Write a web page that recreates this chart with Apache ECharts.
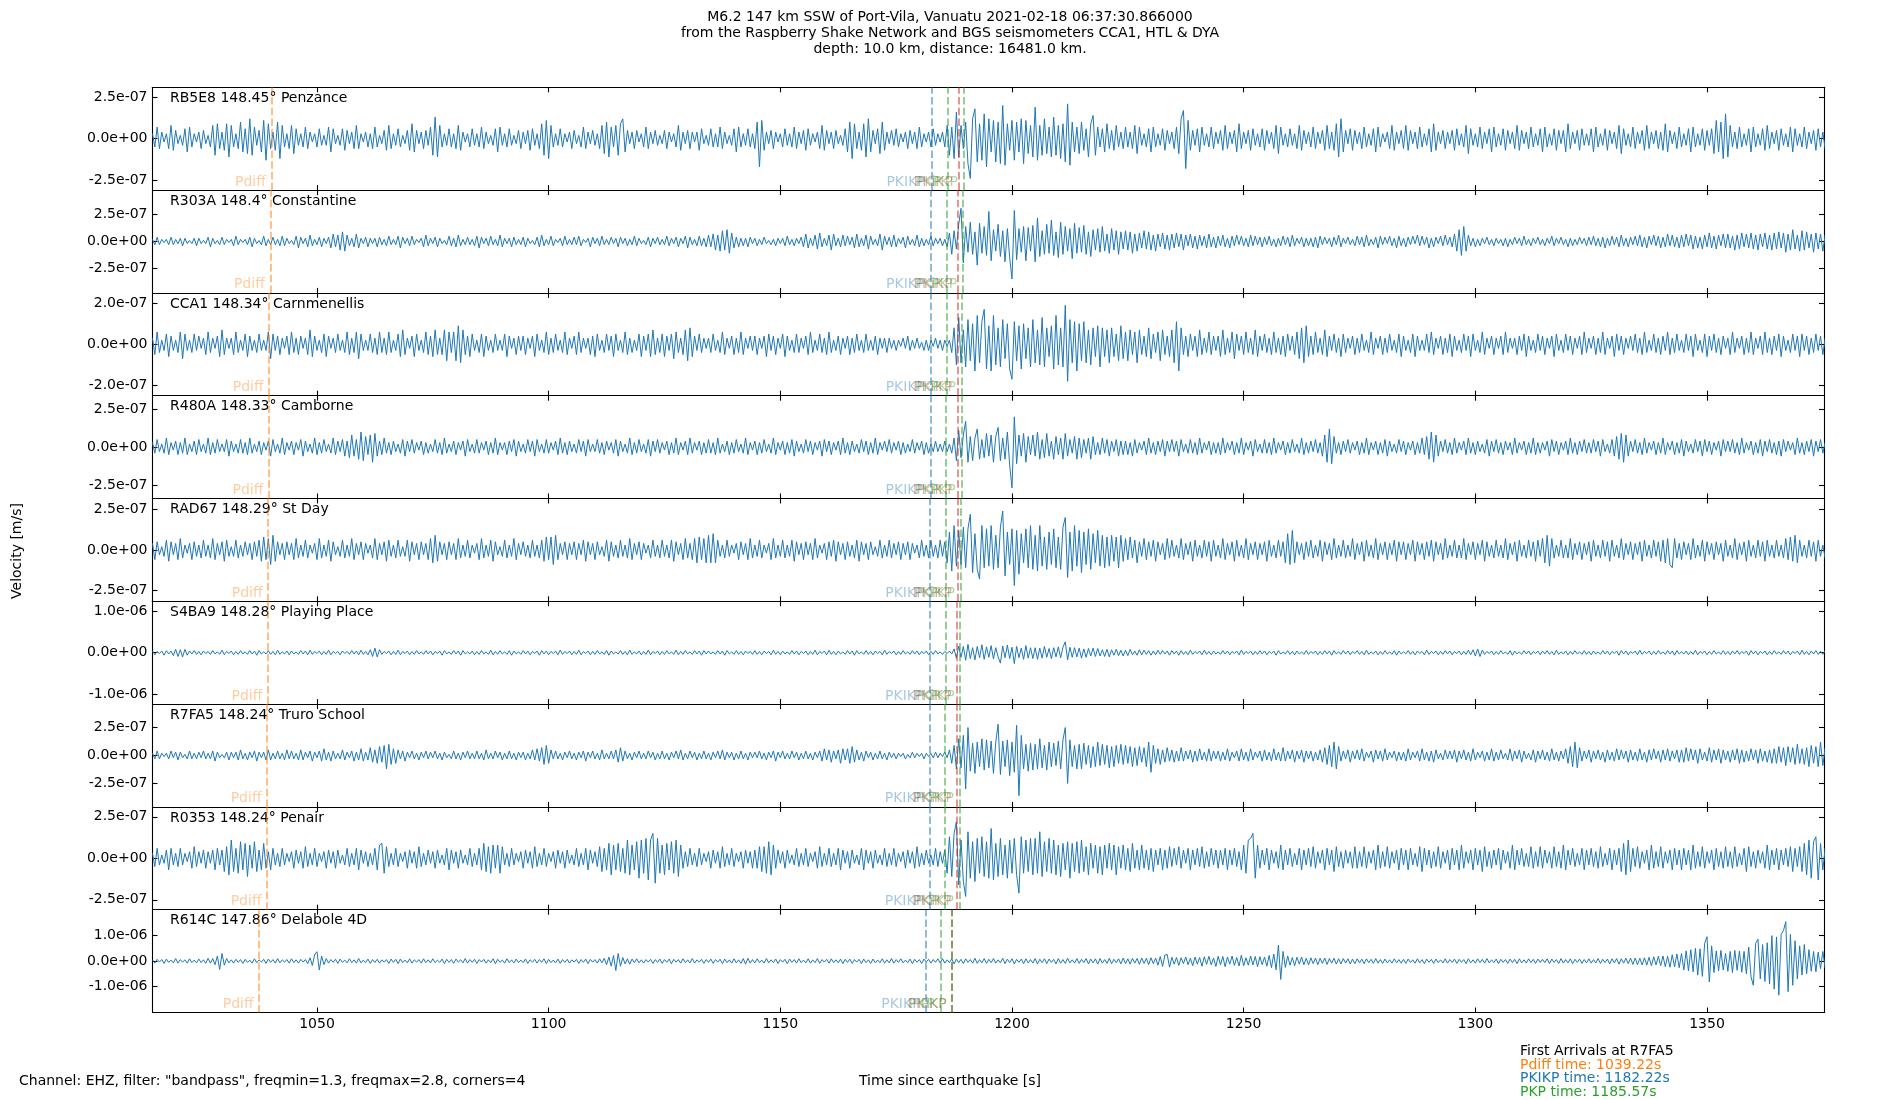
<!DOCTYPE html>
<html>
<head>
<meta charset="utf-8">
<title>M6.2 147 km SSW of Port-Vila, Vanuatu</title>
<script src="https://cdn.jsdelivr.net/npm/echarts@6/dist/echarts.min.js"></script>
<style>
    html, body { margin: 0; padding: 0; background: #fff; }
    #chartArea { width: 1900px; height: 1100px; }
</style>
</head>
<body>
<div id="chartArea"></div>
<script>
// sample grid of the traces
var T0 = 1014.5;   // first sample [s]
var DT = 0.5;      // sample step [s]
var UNIT = 1e-8;   // trace values below are in 1e-8 m/s

var stationNames = [
    'RB5E8 148.45\u00b0 Penzance',
    'R303A 148.4\u00b0 Constantine',
    'CCA1 148.34\u00b0 Carnmenellis',
    'R480A 148.33\u00b0 Camborne',
    'RAD67 148.29\u00b0 St Day',
    'S4BA9 148.28\u00b0 Playing Place',
    'R7FA5 148.24\u00b0 Truro School',
    'R0353 148.24\u00b0 Penair',
    'R614C 147.86\u00b0 Delabole 4D'
];

// y half-range of each panel, same units as the traces
var yLimits = [31, 48, 25, 34, 31.7, 123, 46, 31, 202];
var yTickValues = [
    [-25, 0, 25], [-25, 0, 25], [-20, 0, 20], [-25, 0, 25], [-25, 0, 25],
    [-100, 0, 100], [-25, 0, 25], [-25, 0, 25], [-100, 0, 100]
];
var xTickValues = [1050, 1100, 1150, 1200, 1250, 1300, 1350];

// arrival times per station [s]
var pdiffTimes = [1040.14, 1039.92, 1039.66, 1039.62, 1039.44, 1039.40, 1039.22, 1039.22, 1037.50];
var pkikpTimes = [1182.58, 1182.50, 1182.42, 1182.40, 1182.32, 1182.30, 1182.22, 1182.22, 1181.46];
var pkpTimes = [1186.05, 1185.95, 1185.84, 1185.81, 1185.70, 1185.68, 1185.57, 1185.57, 1184.54];
var pkikpInnerTimes = [1188.45, 1188.38, 1188.30, 1188.27, 1188.20, 1188.18, 1188.10, 1188.10, 1187.10];
var pkpAbTimes = [1189.50, 1189.35, 1189.09, 1189.05, 1188.88, 1188.83, 1188.66, 1188.66, 1187.10];

// velocity traces, 20 samples (10 s) per row
var tracePenzance = [
    3,-5,7,-6,4,-2,3,-6,8,-7,5,-3,2,-4,6,-8,7,-5,3,-2,
    4,-6,5,-3,2,-5,8,-10,9,-6,4,-7,9,-11,8,-5,3,-6,10,-8,
    6,-9,12,-10,7,-4,5,-8,11,-13,9,-6,4,-7,10,-12,8,-5,3,-6,
    8,-9,6,-4,3,-5,7,-6,4,-2,3,-5,6,-4,2,-4,7,-8,6,-3,
    2,-4,6,-7,5,-3,4,-6,8,-6,3,-2,4,-5,3,-6,7,-5,2,-3,
    5,-7,8,-6,3,-4,6,-5,2,-3,5,-7,9,-8,5,-3,4,-6,5,-4,
    7,-10,13,-11,8,-5,3,-4,6,-5,3,-6,8,-7,4,-2,3,-5,6,-4,
    3,-5,7,-6,4,-3,2,-4,6,-8,7,-4,3,-5,6,-4,2,-3,5,-6,
    4,-3,5,-7,6,-4,3,-6,9,-10,11,-12,8,-5,3,-4,6,-5,3,-2,
    4,-6,5,-3,2,-5,7,-6,4,-3,5,-4,3,-6,8,-9,10,-11,7,-5,
    8,-10,9,12,-8,5,-3,4,-6,5,-2,3,-5,7,-6,4,-3,5,-4,2,
    -3,5,-6,4,-2,3,-5,8,-7,4,-3,5,-6,4,-2,4,-7,6,-3,2,
    -4,6,-5,3,-5,7,-6,4,-3,2,-4,6,-8,7,-5,3,-4,6,-5,3,
    -6,10,-17,11,-7,4,-3,5,-6,4,-2,3,-5,6,-4,3,-5,7,-6,4,
    -3,5,-7,6,-4,3,-2,4,-6,8,-7,5,-3,4,-6,5,-3,2,-4,6,
    -8,10,-12,9,-6,4,-7,9,-11,12,-8,5,-3,6,-9,10,-7,4,-3,5,
    -4,6,-5,3,-2,4,-6,5,-3,4,-6,7,-5,3,-2,4,-5,6,-4,3,
    -2,4,-5,8,-10,7,-12,16,-11,8,-6,10,-15,-24,12,18,-14,9,-13,15,
    -17,12,-8,11,-14,10,-15,20,-16,9,-7,11,-13,10,-8,12,-15,11,-9,8,
    -11,19,-13,8,-10,12,-9,7,-11,13,-10,8,-12,9,-14,21,-16,10,-8,7,
    -9,10,-7,6,-11,9,14,-10,7,-5,6,-8,9,-6,5,-7,8,-5,4,-6,
    7,-5,4,-6,8,-9,7,-4,3,-5,6,-8,7,-5,3,-4,6,-7,5,-3,
    4,-6,7,-9,12,17,-18,11,-7,5,-4,6,-8,7,-4,3,-5,7,-6,4,
    -3,5,-7,8,-6,4,-3,5,-8,9,-6,4,-3,5,-7,6,-4,3,-5,6,
    -7,5,-3,4,-6,8,-9,7,-4,3,-5,6,-4,3,-6,8,-7,5,-3,4,
    -5,7,-6,4,-3,5,-7,8,-6,4,-7,9,-11,12,-8,5,-3,6,-7,5,
    -3,4,-6,7,-5,3,-4,6,-8,7,-5,3,-2,4,-6,8,-7,4,-3,5,
    -6,8,-7,5,-3,4,-6,7,-5,3,-4,6,-8,9,-7,4,-3,5,-6,4,
    -3,5,-7,6,-4,3,-5,8,-9,6,-4,3,-5,7,-6,4,-3,6,-8,7,
    -5,3,-4,6,-7,5,-3,4,-6,8,-7,5,-3,4,-6,7,-5,3,-4,6,
    -8,7,-5,3,-4,6,-7,5,-3,5,-8,9,-6,4,-3,5,-7,6,-4,3,
    -4,6,-8,7,-5,3,-4,6,-7,5,-3,4,-6,8,-9,6,-4,3,-5,7,
    -6,4,-3,5,-7,8,-6,4,-3,5,-6,4,-7,9,-8,5,-3,4,-6,7,
    -5,3,-4,6,-8,7,-5,3,-4,6,-7,5,-4,6,-9,11,-8,10,-12,15,
    -11,8,-5,4,-6,7,-5,3,-4,6,-8,7,-5,3,-4,6,-7,8,-6,4,
    -3,5,-7,6,-4,3,-5,7,-8,6,-4,3,-5,7,-6,4,-3,5,-7,6,
    -5,4,-6,5
];
var traceConstantine = [
    2,-3,4,-3,2,-1,2,-3,4,-3,2,-2,3,-4,3,-2,1,-2,3,-4,
    3,-2,1,-2,4,-5,3,-2,1,-3,4,-3,2,-1,2,-4,5,-3,2,-1,
    2,-3,4,-5,3,-2,1,-3,5,-4,2,-3,4,-3,2,-4,5,-4,3,-2,
    1,-3,5,-6,4,-2,3,-5,6,-4,2,-3,4,-5,3,-2,4,-6,7,-5,
    6,-8,9,-9,6,-4,3,-5,7,-6,3,-2,4,-5,3,-2,3,-5,4,-3,
    2,-4,5,-3,2,-3,5,-6,4,-2,3,-4,5,-3,2,-1,3,-5,6,-4,
    3,-2,4,-5,3,-2,1,-3,5,-4,3,-5,6,-4,2,-3,4,-3,2,-4,
    5,-6,4,-2,3,-4,5,-3,2,-4,6,-5,3,-2,3,-5,4,-3,2,-3,
    4,-5,3,-2,1,-3,4,-5,6,-4,2,-3,5,-4,2,-1,3,-4,5,-3,
    2,-3,4,-3,5,-4,2,-1,3,-5,4,-2,3,-4,5,-3,2,-3,4,-2,
    3,-5,4,-2,3,-4,2,-3,5,-4,3,-2,1,-3,4,-5,3,-2,4,-3,
    2,-3,5,-4,3,-2,4,-5,3,-2,5,-6,4,-3,2,-4,5,-4,3,-5,
    6,-5,7,-8,6,-9,10,-8,11,-11,8,-6,4,-5,3,-4,3,-5,4,-2,
    3,-4,2,-3,4,-2,1,-3,2,-4,3,-2,3,-4,5,-3,2,-4,3,-2,
    4,-5,7,-6,3,-4,6,-7,8,-5,3,-4,6,-8,7,-4,3,-5,6,-4,
    5,-3,4,-6,7,-5,3,-4,6,-7,5,-3,2,-4,7,-8,5,-3,4,-5,
    6,-5,3,-2,4,-6,5,-3,2,-4,6,-5,3,-4,2,-3,5,-4,3,-2,
    3,-4,2,-5,8,-12,10,-7,16,31,-20,14,-10,18,-12,9,-22,17,-11,14,
    -13,28,-18,11,-9,16,-14,10,-19,12,-15,-35,29,-17,12,-10,14,-18,13,-9,
    15,-19,22,-14,10,-12,16,-11,20,-13,9,-15,18,-12,14,-9,12,-16,17,-11,
    13,-10,15,-12,9,-14,11,-8,12,-10,14,-9,7,-11,12,-8,10,-12,9,-7,
    10,-8,9,-11,7,-9,8,-6,10,-7,9,-8,6,-9,7,-5,8,-7,6,-8,
    7,-6,8,-5,7,-8,6,-4,7,-6,5,-7,6,-4,5,-6,7,-5,4,-6,
    5,-4,6,-5,3,-6,5,-4,6,-3,5,-4,3,-5,6,-4,5,-3,4,-5,
    4,-3,5,-4,2,-5,3,-4,5,-3,4,-5,6,-4,3,-2,4,-5,3,-4,
    3,-5,4,-6,5,-3,4,-2,3,-5,4,-3,6,-5,3,-2,4,-3,2,-4,
    5,-3,4,-5,6,-4,2,-3,4,-6,5,-3,4,-2,5,-4,3,-6,5,-4,
    3,-5,4,-3,5,-2,6,-4,5,-3,4,-6,3,-5,4,-2,5,-4,6,-3,
    4,-5,7,-9,11,-13,14,-9,6,-4,3,-5,2,-4,3,-2,4,-3,2,-4,
    3,-2,2,-4,3,-5,2,-3,4,-2,3,-4,5,-3,2,-4,3,-2,4,-3,
    2,-4,3,-2,5,-4,3,-2,4,-3,2,-5,3,-4,2,-3,4,-2,3,-4,
    4,-3,5,-4,3,-5,4,-6,3,-4,5,-3,4,-5,6,-4,3,-5,4,-3,
    5,-4,6,-5,4,-6,5,-3,6,-4,5,-6,4,-5,7,-4,6,-5,4,-6,
    6,-5,7,-4,6,-7,5,-6,4,-7,6,-5,8,-6,5,-7,6,-4,7,-6,
    7,-6,5,-8,6,-7,8,-5,7,-6,8,-7,6,-8,7,-5,8,-7,6,-8,
    8,-7,9,-6,8,-10,7,-8,11,-7,6,-9,10,-8,9,-6,7,-10,8,-7,
    7,-9,6,-8
];
var traceCarnmenellis = [
    3,-5,6,-4,2,-3,5,-6,4,-3,2,-4,6,-7,5,-3,2,-4,5,-3,
    4,-2,3,-5,6,-4,3,-2,4,-6,7,-5,3,-2,3,-5,6,-4,2,-3,
    5,-6,4,-3,2,-4,5,-3,2,-3,6,-7,5,-3,4,-5,3,-2,4,-5,
    6,-4,3,-5,4,-2,3,-5,7,-6,4,-3,2,-4,5,-6,4,-2,3,-4,
    5,-3,2,-4,6,-5,3,-4,6,-7,5,-3,2,-3,5,-4,3,-5,6,-4,
    3,-5,6,-4,2,-3,5,-6,7,-5,3,-2,4,-6,5,-3,2,-4,6,-5,
    4,-6,7,-5,3,-5,7,-8,6,-4,6,-8,9,-9,7,-5,4,-6,5,-3,
    2,-4,5,-6,4,-3,2,-4,5,-3,2,-3,5,-6,4,-2,3,-5,4,-3,
    4,-5,3,-2,4,-6,5,-3,2,-4,6,-5,3,-4,5,-3,2,-4,6,-5,
    3,-2,4,-5,6,-4,3,-2,3,-5,4,-6,5,-3,2,-4,5,-3,4,-6,
    5,-3,2,-4,6,-5,3,-4,2,-3,5,-6,4,-3,5,-6,7,-5,3,-4,
    5,-6,4,-3,5,-7,6,-4,3,-5,7,-8,8,-6,4,-3,5,-4,3,-2,
    3,-4,5,-3,2,-4,6,-5,3,-2,4,-5,3,-4,6,-5,3,-2,4,-3,
    4,-5,3,-2,4,-6,5,-3,4,-5,3,-2,5,-6,4,-3,2,-4,5,-4,
    3,-2,4,-5,6,-4,2,-3,5,-4,3,-5,6,-4,2,-3,4,-5,3,-2,
    4,-5,3,-4,5,-3,2,-4,5,-3,2,-3,4,-5,3,-2,3,-4,3,-2,
    2,-3,2,-1,3,-2,4,-3,2,-2,3,-2,1,-3,2,-3,2,-1,3,-2,
    2,-3,2,-1,2,-4,8,-10,13,-9,7,-11,12,-8,10,-13,14,-9,11,17,
    -12,9,-13,14,-10,8,-11,12,-7,10,-12,-17,11,-8,9,-12,10,-7,8,-11,
    12,-9,7,-10,13,-11,8,-6,9,-12,14,-10,8,-11,19,-18,12,-9,11,-13,
    10,-8,11,-9,7,-10,8,-6,9,-11,8,-6,7,-9,8,-6,5,-8,9,-7,
    6,-8,7,-5,6,-9,7,-5,4,-6,8,-7,5,-4,6,-8,7,-5,4,-6,
    7,-9,11,-13,8,-5,4,-6,5,-3,4,-6,7,-5,3,-4,6,-5,4,-3,
    4,-6,7,-5,3,-4,6,-7,5,-3,4,-5,6,-4,3,-5,7,-6,4,-3,
    5,-4,3,-5,6,-4,3,-5,4,-6,5,-3,4,-5,6,-7,8,-9,9,-6,
    4,-5,6,-4,3,-5,7,-6,4,-3,5,-4,3,-6,5,-4,3,-2,4,-5,
    3,-4,5,-3,2,-4,6,-5,3,-2,4,-5,3,-4,5,-3,2,-4,5,-6,
    4,-3,2,-4,5,-6,4,-3,2,-3,5,-4,6,-5,3,-2,4,-5,3,-4,
    5,-6,4,-3,2,-4,5,-3,4,-6,5,-3,2,-4,6,-5,3,-2,4,-5,
    3,-2,4,-5,6,-4,3,-2,3,-5,4,-3,5,-6,4,-3,2,-4,5,-3,
    4,-5,3,-2,4,-6,5,-3,2,-4,5,-3,4,-5,3,-2,4,-5,6,-4,
    3,-2,4,-5,3,-4,6,-5,3,-2,4,-6,5,-3,4,-5,3,-2,4,-3,
    5,-4,3,-5,6,-4,2,-3,5,-4,3,-5,4,-3,6,-5,3,-4,5,-3,
    2,-4,5,-3,4,-6,5,-3,2,-4,5,-6,4,-3,5,-4,3,-5,4,-2,
    3,-5,6,-4,3,-2,4,-5,3,-4,6,-5,3,-2,4,-5,6,-4,3,-5,
    4,-3,5,-6,4,-3,2,-4,5,-3,4,-6,5,-3,4,-5,3,-4,5,-3,
    4,-5,3,-4
];
var traceCamborne = [
    3,-4,5,-3,2,-4,6,-5,3,-2,4,-5,3,-4,6,-5,2,-3,4,-5,
    5,-3,2,-4,6,-5,3,-4,5,-3,2,-3,5,-6,4,-3,2,-4,5,-4,
    3,-5,6,-4,2,-3,4,-5,3,-2,4,-6,5,-3,2,-4,6,-5,3,-2,
    4,-5,3,-2,5,-6,4,-3,2,-4,6,-5,3,-4,5,-3,2,-4,6,-5,
    4,-3,5,-6,4,-7,8,-6,5,-8,10,-9,7,-5,8,-10,9,-6,4,-5,
    6,-4,3,-5,4,-3,2,-4,5,-6,4,-3,5,-4,3,-2,4,-5,3,-4,
    2,-3,5,-4,3,-5,6,-4,2,-3,4,-5,3,-2,4,-6,5,-3,2,-4,
    5,-4,3,-2,4,-5,3,-4,6,-5,3,-2,3,-5,4,-3,5,-6,4,-3,
    2,-4,5,-3,4,-6,5,-3,2,-4,5,-4,3,-2,4,-5,6,-4,3,-5,
    4,-3,2,-4,5,-3,4,-6,5,-3,2,-3,5,-4,3,-5,4,-2,3,-4,
    5,-6,4,-3,2,-4,6,-5,3,-4,5,-3,2,-4,5,-6,4,-3,5,-4,
    3,-2,4,-5,3,-4,6,-5,3,-2,4,-5,6,-4,3,-2,4,-5,3,-4,
    5,-4,3,-5,6,-4,2,-3,4,-5,3,-4,5,-3,2,-4,6,-5,3,-2,
    4,-5,3,-4,5,-3,2,-4,6,-5,3,-2,4,-5,3,-4,5,-6,4,-3,
    2,-4,5,-3,4,-5,3,-2,4,-6,5,-3,4,-5,3,-2,4,-5,6,-4,
    3,-5,4,-3,2,-4,5,-3,4,-5,3,-4,6,-5,3,-2,4,-3,5,-4,
    3,-2,4,-5,3,-4,2,-3,5,-4,3,-2,4,-5,3,-4,2,-3,4,-3,
    2,-3,4,-3,2,-4,6,-9,11,-7,8,17,-10,7,-9,6,12,-8,5,-7,
    9,-6,8,-10,7,13,-9,6,-8,10,-12,-27,20,-11,8,-6,9,-10,7,-5,
    8,-6,10,-8,5,-7,9,-6,4,-8,7,-5,6,-8,9,-6,5,-4,7,-8,
    6,-7,5,-4,6,-8,7,-5,3,-5,6,-4,5,-6,4,-3,5,-6,4,-5,
    4,-5,3,-6,5,-4,3,-2,4,-5,6,-4,3,-5,4,-3,5,-6,4,-3,
    5,-3,4,-6,5,-3,2,-4,5,-4,3,-5,6,-4,3,-2,4,-5,3,-4,
    3,-5,6,-4,3,-2,4,-5,3,-4,6,-5,3,-2,4,-6,5,-3,2,-4,
    5,-4,3,-5,6,-4,3,-2,4,-5,3,-4,5,-3,2,-4,6,-5,3,-4,
    4,-3,5,-4,3,-6,8,-10,12,-11,7,-4,3,-5,4,-3,5,-4,3,-2,
    4,-5,3,-4,6,-5,3,-2,4,-5,3,-4,5,-6,4,-3,2,-4,5,-3,
    4,-5,3,-2,4,-5,3,-4,6,-5,7,-8,10,-10,8,-6,4,-3,5,-4,
    3,-5,6,-4,3,-2,4,-5,6,-4,3,-5,4,-3,2,-4,5,-6,4,-3,
    5,-4,3,-5,4,-2,3,-5,6,-4,3,-2,4,-5,3,-4,6,-5,3,-4,
    3,-2,4,-6,5,-3,4,-5,3,-2,4,-5,6,-4,3,-5,4,-3,5,-4,
    3,-4,5,-3,4,-6,5,-3,2,-4,5,-6,7,-8,9,-10,8,-6,4,-3,
    5,-4,3,-5,6,-4,3,-2,4,-5,3,-4,6,-5,3,-2,4,-5,3,-4,
    5,-6,4,-3,2,-4,5,-3,4,-6,5,-3,4,-5,3,-2,4,-6,5,-3,
    4,-3,5,-4,3,-5,6,-4,3,-2,4,-5,3,-4,5,-6,4,-3,5,-4,
    3,-5,4,-6,5,-3,4,-2,3,-5,6,-4,3,-5,4,-3,5,-6,4,-3,
    5,-4,3,-5
];
var traceStDay = [
    4,-6,5,-3,2,-4,6,-7,5,-3,4,-6,7,-5,3,-2,4,-6,5,-4,
    3,-5,6,-4,3,-5,7,-6,4,-3,5,-7,6,-4,2,-4,6,-5,3,-4,
    5,-3,4,-6,5,-4,6,-7,8,-6,7,-9,9,-7,5,-3,4,-6,5,-3,
    4,-6,7,-5,3,-4,6,-5,3,-2,4,-6,7,-5,3,-4,6,-7,5,-3,
    2,-4,6,-5,3,-4,7,-6,4,-3,5,-6,4,-2,3,-5,7,-6,4,-3,
    5,-7,6,-4,3,-5,6,-4,2,-4,6,-7,5,-3,4,-6,5,-3,4,-6,
    7,-8,9,-7,5,-3,4,-6,5,-3,4,-6,7,-5,3,-4,6,-5,3,-2,
    4,-6,7,-5,3,-4,6,-7,5,-3,2,-4,6,-5,3,-4,7,-6,4,-3,
    5,-4,3,-5,6,-4,3,-5,6,-7,8,-6,8,-9,9,-6,4,-3,5,-6,
    4,-3,5,-6,4,-3,6,-7,5,-3,4,-6,5,-3,2,-4,6,-7,5,-4,
    3,-5,6,-4,3,-5,7,-6,4,-3,5,-6,4,-2,3,-5,6,-4,3,-5,
    6,-4,3,-5,6,-7,5,-3,4,-6,7,-5,4,-6,7,-8,8,-6,7,-8,
    9,-8,10,-8,6,-4,3,-5,6,-4,3,-2,4,-6,5,-3,4,-6,7,-5,
    3,-4,6,-5,3,-2,4,-6,7,-5,3,-4,6,-5,3,-4,6,-7,5,-3,
    4,-6,5,-3,4,-6,7,-5,3,-2,4,-6,5,-4,6,-7,5,-3,4,-6,
    5,-4,3,-5,6,-7,5,-3,4,-6,5,-3,2,-4,6,-5,3,-4,6,-5,
    4,-3,5,-6,4,-3,5,-6,4,-2,3,-5,6,-4,3,-5,6,-4,3,-5,
    6,-4,5,-8,11,-13,15,-10,12,-9,14,-11,13,22,-14,10,-12,-18,15,-11,
    13,-10,15,-12,9,-11,14,24,-16,11,-9,13,-22,12,-15,10,-8,13,-11,15,
    -12,9,-13,15,-10,8,-12,11,-9,13,-11,8,-12,14,20,-17,11,-13,15,-10,
    12,-14,11,-9,13,-12,10,-8,12,-10,9,-11,8,-10,9,-7,8,-11,9,-7,
    7,-6,8,-5,6,-8,5,-4,7,-6,5,-4,6,-7,5,-3,4,-6,7,-5,
    6,-4,3,-5,7,-6,4,-3,5,-7,6,-4,3,-5,6,-4,5,-7,6,-4,
    3,-5,7,-6,4,-3,5,-7,6,-4,3,-5,7,-6,4,-3,5,-6,4,-3,
    5,-7,6,-4,3,-5,6,-4,5,-8,10,-9,12,-8,5,-3,4,-6,5,-4,
    6,-5,3,-4,6,-7,5,-3,4,-6,7,-5,3,-4,6,-5,3,-4,7,-6,
    4,-3,5,-7,6,-4,3,-5,7,-6,4,-3,5,-6,4,-3,6,-7,5,-3,
    5,-6,4,-3,6,-7,5,-3,4,-6,5,-4,6,-7,5,-3,4,-6,7,-5,
    3,-4,6,-5,3,-5,7,-6,4,-3,5,-6,4,-3,6,-7,5,-4,3,-5,
    6,-4,3,-5,7,-6,4,-3,5,-7,6,-4,3,-5,6,-4,5,-7,6,-4,
    7,-8,9,-10,7,-5,3,-4,6,-5,3,-5,7,-6,4,-3,5,-6,4,-3,
    5,-7,6,-4,3,-5,6,-4,5,-7,6,-4,3,-5,7,-6,4,-3,5,-6,
    4,-3,5,-7,6,-4,3,-5,6,-4,5,-7,6,-8,7,-9,-11,7,-5,4,
    -6,5,-3,4,-6,7,-5,3,-4,6,-7,5,-3,4,-6,5,-3,4,-7,6,
    -4,3,-5,7,-6,4,-3,5,-7,6,-4,3,-5,6,-4,5,-7,6,-4,3,
    -5,6,-4,3,-5,7,-6,8,-7,9,-8,6,-4,3,-5,6,-4,5,-7,6,
    -4,3,-5,6
];
var tracePlayingPlace = [
    4,-5,3,-2,4,-6,5,-3,4,-7,8,-9,7,-10,8,-6,4,-3,5,-4,
    3,-5,4,-2,3,-4,5,-3,2,-4,6,-5,3,-2,4,-5,3,-4,5,-3,
    2,-4,5,-3,4,-6,5,-3,2,-3,5,-4,3,-5,6,-4,2,-3,4,-5,
    4,-3,2,-4,5,-3,4,-5,6,-4,3,-2,4,-5,3,-4,6,-5,3,-2,
    3,-5,4,-2,3,-4,5,-3,4,-5,6,-4,3,-5,7,-9,11,-10,7,-4,
    3,-2,4,-5,3,-4,6,-5,3,-2,4,-5,3,-4,5,-3,2,-4,5,-3,
    4,-5,3,-2,4,-6,5,-3,2,-4,5,-3,4,-6,5,-3,2,-3,4,-5,
    3,-4,5,-3,2,-4,6,-5,3,-4,5,-3,2,-4,5,-6,4,-3,2,-4,
    5,-3,4,-5,3,-2,4,-6,5,-3,4,-5,3,-2,4,-5,6,-4,3,-2,
    4,-5,3,-4,6,-5,3,-2,4,-5,3,-4,5,-3,2,-4,5,-6,4,-3,
    2,-3,5,-4,3,-5,6,-4,2,-3,4,-5,3,-4,6,-5,3,-2,4,-5,
    3,-4,5,-3,2,-4,6,-5,3,-4,5,-3,2,-4,5,-3,4,-6,5,-3,
    4,-3,2,-4,5,-3,4,-6,5,-3,2,-4,5,-4,3,-5,4,-2,3,-4,
    5,-4,3,-5,4,-2,3,-5,6,-4,3,-5,4,-3,2,-4,5,-3,4,-5,
    3,-2,4,-5,3,-4,6,-5,3,-2,4,-5,6,-4,3,-5,4,-3,2,-4,
    5,-3,4,-6,5,-3,2,-4,5,-4,3,-5,4,-2,3,-5,6,-4,3,-2,
    4,-5,3,-4,5,-3,2,-4,5,-3,4,-5,3,-2,4,-5,3,-4,5,-3,
    2,-4,3,-2,4,-3,9,-13,16,-11,15,-18,20,-14,12,-17,15,-12,19,-16,
    14,-11,17,-15,12,-10,-25,16,-12,18,-14,13,-26,15,-12,11,-16,17,-13,12,
    -14,12,-16,11,-13,15,-11,10,-14,12,-10,14,-12,13,26,-17,13,-11,12,-10,
    11,-13,9,-11,10,-8,11,-9,10,-8,7,-9,8,-10,7,-6,8,-7,6,-8,
    6,-7,8,-5,4,-6,7,-5,6,-4,5,-6,4,-5,6,-4,5,-3,4,-6,
    5,-3,4,-6,5,-4,3,-5,6,-4,3,-2,4,-5,6,-4,3,-5,4,-3,
    2,-4,5,-3,4,-5,3,-2,4,-5,6,-4,3,-2,4,-5,3,-4,5,-3,
    4,-5,3,-2,4,-6,5,-3,2,-3,5,-4,3,-5,4,-3,2,-4,5,-4,
    3,-2,4,-5,3,-4,5,-3,4,-6,5,-3,2,-4,5,-3,4,-5,3,-2,
    5,-4,3,-5,6,-4,2,-3,4,-5,3,-4,5,-3,2,-4,5,-6,4,-3,
    2,-3,5,-4,3,-5,4,-2,3,-5,6,-4,3,-2,4,-5,3,-4,5,-3,
    4,-5,3,-2,4,-5,3,-4,6,-5,7,-8,9,-9,6,-4,3,-2,4,-5,
    3,-4,5,-3,2,-4,5,-6,4,-3,2,-4,5,-3,4,-5,3,-2,4,-5,
    4,-3,5,-4,3,-5,6,-4,2,-3,4,-5,3,-4,5,-3,2,-4,5,-4,
    3,-5,4,-3,2,-4,5,-3,4,-5,3,-2,4,-6,5,-3,4,-5,3,-2,
    4,-5,6,-4,3,-2,4,-5,3,-4,5,-3,2,-4,5,-3,4,-6,5,-3,
    2,-3,4,-5,3,-4,6,-5,3,-2,4,-5,3,-4,5,-3,2,-4,5,-4,
    3,-5,4,-3,5,-4,3,-2,4,-6,5,-3,4,-5,3,-2,4,-5,3,-4,
    5,-3,2,-4,5,-3,4,-5,3,-2,4,-5,6,-4,3,-5,4,-3,5,-4,
    3,-4,5,-3
];
var traceTruroSchool = [
    2,-3,4,-3,2,-1,2,-3,4,-2,3,-4,3,-2,1,-3,4,-3,2,-3,
    3,-2,4,-3,2,-3,4,-5,3,-2,1,-2,3,-4,3,-2,3,-4,5,-3,
    2,-4,3,-2,4,-5,3,-2,3,-4,5,-4,2,-3,4,-3,2,-4,5,-3,
    4,-3,2,-4,5,-4,3,-2,4,-5,3,-2,4,-5,6,-4,3,-5,4,-3,
    2,-3,5,-4,3,-2,4,-5,3,-4,6,-5,3,-4,7,-6,5,-7,8,-6,
    9,-12,10,-8,6,-7,5,-3,4,-5,3,-2,4,-3,2,-4,3,-2,4,-3,
    3,-2,4,-3,2,-4,3,-2,1,-3,4,-3,2,-4,3,-2,4,-3,2,-3,
    4,-3,2,-4,5,-3,2,-3,4,-2,3,-4,2,-3,4,-3,2,-4,3,-2,
    3,-4,2,-3,5,-4,6,-5,7,-8,9,-7,5,-3,4,-3,2,-4,3,-2,
    4,-3,2,-4,3,-2,4,-5,3,-2,4,-3,2,-4,5,-3,2,-3,4,-3,
    5,-6,7,-5,4,-3,2,-4,3,-2,4,-3,2,-3,4,-2,3,-4,2,-3,
    4,-3,2,-4,3,-2,4,-3,5,-4,2,-3,4,-2,3,-4,2,-3,4,-3,
    2,-4,3,-2,4,-3,5,-4,3,-2,3,-4,2,-3,4,-3,2,-4,3,-2,
    3,-2,4,-3,2,-4,3,-2,4,-5,3,-2,4,-3,2,-3,4,-2,3,-4,
    2,-3,4,-3,2,-4,3,-2,4,-5,6,-4,5,-6,4,-3,5,-7,6,-4,
    6,-7,8,-6,5,-4,3,-5,4,-2,3,-4,2,-3,4,-3,2,-4,3,-2,
    2,-3,2,-1,2,-3,1,-2,3,-2,2,-1,2,-3,2,-1,2,-2,3,-2,
    2,-1,3,-2,5,-7,9,-12,15,-11,18,-30,25,-14,11,-16,12,-10,15,-13,
    14,-11,13,-16,12,28,-17,13,-10,14,-18,12,-15,27,-36,18,-12,10,-14,11,
    -13,10,-12,15,-11,9,-13,12,-10,11,-9,13,-12,14,25,-25,14,-10,9,-12,
    10,-12,11,-8,9,-11,8,-10,12,-9,10,-8,9,-11,8,-10,9,-7,10,-8,
    9,-7,8,-10,7,-9,8,-6,7,-10,12,-15,9,-7,6,-8,5,-6,7,-5,
    5,-6,4,-5,7,-5,4,-3,5,-6,4,-5,6,-4,3,-5,6,-5,4,-3,
    4,-5,3,-4,6,-5,3,-2,4,-5,6,-4,3,-5,6,-4,3,-2,4,-5,
    5,-4,3,-5,6,-4,3,-5,7,-5,4,-3,5,-6,4,-3,5,-6,4,-3,
    4,-5,3,-4,5,-6,7,-8,9,-10,12,-12,8,-5,4,-3,5,-6,4,-3,
    5,-4,6,-5,3,-2,4,-6,5,-3,4,-5,6,-4,3,-2,4,-5,3,-4,
    3,-5,6,-4,3,-2,4,-5,6,-4,3,-5,4,-6,5,-3,2,-4,5,-3,
    4,-3,5,-6,4,-3,5,-4,3,-5,6,-4,3,-2,4,-5,3,-4,6,-5,
    3,-4,5,-3,2,-4,6,-5,4,-3,5,-6,4,-3,2,-4,5,-6,4,-3,
    5,-4,3,-5,6,-4,3,-5,4,-3,6,-7,8,-10,12,-11,7,-5,4,-3,
    5,-6,4,-3,5,-4,3,-6,5,-4,3,-5,6,-4,5,-3,4,-6,5,-4,
    3,-5,6,-4,3,-6,5,-4,6,-3,4,-6,5,-4,6,-5,4,-3,5,-6,
    5,-6,7,-5,6,-4,5,-7,6,-4,3,-5,7,-6,5,-4,6,-7,5,-4,
    4,-6,5,-4,6,-7,5,-6,4,-5,6,-4,5,-7,6,-5,4,-6,5,-7,
    6,-7,8,-6,7,-9,8,-6,7,-8,10,-7,6,-8,7,-10,9,-7,8,-10,
    12,-9,7,-8
];
var tracePenair = [
    3,-5,6,-4,2,-3,5,-7,6,-4,3,-5,6,-4,3,-2,4,-6,7,-5,
    4,-3,5,-6,4,-3,5,-7,6,-4,5,-8,7,-10,11,-8,6,-9,10,-7,
    9,-11,8,-6,10,-8,5,-7,9,-6,4,-7,6,-4,3,-5,6,-4,3,-2,
    4,-6,5,-3,4,-6,7,-5,3,-4,6,-5,3,-2,4,-6,5,-3,4,-6,
    5,-3,2,-4,6,-5,3,-4,6,-7,5,-3,4,-5,3,-4,6,-7,8,9,
    -9,7,-5,3,-4,6,-5,3,-2,4,-6,5,-3,4,-6,7,-5,3,-4,5,
    -3,4,-6,5,-3,2,-4,6,-7,5,-3,4,-6,5,-3,2,-4,6,-5,3,
    -4,6,-7,9,-8,7,-9,8,-6,8,-9,7,-4,3,-5,6,-4,3,-2,4,
    -6,5,-3,4,-6,7,-5,3,-4,6,-5,3,-2,4,-6,5,-3,4,-6,5,
    -3,2,-4,6,-5,3,-4,6,-7,5,-3,4,-5,7,-8,6,-7,9,-10,8,
    -7,9,-8,6,-9,11,-10,8,-7,10,-12,11,-9,12,-13,11,15,-15,12,-9,
    8,-10,9,-7,10,-9,11,-11,8,-6,4,-5,6,-4,3,-5,6,-4,3,-2,
    4,-6,5,-3,4,-6,7,-5,3,-4,6,-5,3,-2,4,-6,5,-3,4,-6,
    5,-6,7,-8,7,-9,10,-10,8,-6,5,-3,4,-6,5,-3,2,-4,6,-5,
    3,-4,6,-5,3,-2,4,-6,7,-5,3,-4,6,-5,3,-4,6,-7,5,-3,
    4,-6,5,-3,2,-4,6,-7,5,-3,4,-6,5,-3,2,-4,6,-5,3,-4,
    6,-5,3,-2,4,-6,5,-3,4,-6,7,-5,3,-4,5,-3,2,-4,6,-5,
    4,-3,5,-9,13,-11,15,22,-16,11,-14,-23,16,-12,10,-14,12,-9,13,-11,
    10,-12,18,-13,9,-11,12,-10,8,-12,11,-9,12,-10,-21,13,-9,11,-8,12,
    -10,12,-9,16,-11,10,-8,12,-9,11,-10,8,-11,9,-7,10,-12,9,-8,10,
    -9,11,-8,7,-10,9,-6,8,-9,7,-10,8,-6,9,-7,8,-10,7,-6,8,
    -7,6,-8,9,-6,5,-7,8,-6,5,-7,6,-8,5,-4,6,-7,5,-6,7,
    -5,6,-4,7,-6,5,-3,6,-7,5,-4,6,-5,7,-6,4,-5,6,-4,5,
    -6,5,-4,6,-7,5,-4,6,-5,4,-7,8,-9,11,12,15,-12,8,-6,5,
    -4,6,-7,5,-3,4,-6,8,-7,5,-4,6,-5,3,-4,6,-7,5,-4,6,
    -5,7,-6,4,-3,5,-7,6,-4,5,-8,7,-5,4,-6,5,-3,4,-6,7,
    -6,4,-5,7,-6,4,-3,5,-7,8,-6,4,-5,7,-6,4,-3,5,-7,6,
    -4,5,-7,6,-4,3,-5,7,-8,6,-4,5,-6,4,-5,7,-6,4,-3,5,
    -7,6,-4,5,-7,8,-6,4,-3,5,-7,6,-4,5,-8,7,-5,4,-6,5,
    -4,6,-7,5,-3,4,-6,8,-7,5,-4,6,-5,3,-5,7,-6,4,-5,7,
    -6,5,-3,4,-6,7,-5,4,-6,8,-7,5,-4,6,-5,3,-4,6,-7,5,
    -4,6,-5,4,-6,7,-5,3,-4,6,-7,5,-4,6,-8,9,-10,11,-8,6,
    -5,7,-6,4,-3,5,-7,8,-6,4,-5,7,-6,4,-3,5,-7,6,-4,5,
    -7,6,-4,5,-7,8,-6,4,-5,7,-6,4,-3,5,-7,6,-5,4,-6,7,
    -5,4,-6,7,-5,3,-4,6,-8,7,-5,4,-6,5,-3,4,-6,8,-7,5,
    -4,6,-7,5,-4,6,-5,7,-8,6,-5,7,-8,9,-10,11,-12,10,13,-13,
    9,-7,6,-8
];
var traceDelabole = [
    5,-8,7,-4,6,-9,8,-5,4,-7,10,-8,6,-4,5,-8,9,-6,4,-7,
    8,-6,5,-9,11,-8,10,-14,20,-33,30,-16,10,-7,5,-8,7,-5,6,-9,
    7,-5,4,-8,9,-6,5,-4,7,-9,8,-5,6,-8,10,-7,5,-4,6,-8,
    9,-6,5,-8,7,-4,6,-10,13,-17,25,37,-35,20,-14,10,-8,6,-5,7,
    -9,8,-5,4,-7,9,-6,5,-8,10,-7,4,-6,8,-9,6,-5,7,-8,5,
    -4,6,-9,8,-5,7,-10,8,-6,4,-7,9,-8,5,-4,6,-8,9,-6,5,
    -7,9,-6,4,-5,8,-10,7,-5,6,-9,8,-4,5,-7,10,-8,6,-5,7,
    -9,6,-4,7,-8,5,-6,9,-10,7,-5,4,-8,9,-6,5,-7,8,-6,4,
    -6,8,-9,5,-4,7,-8,6,-5,9,-10,7,-6,4,-7,8,-9,6,-5,7,
    -8,5,-4,7,-9,6,-5,8,-10,7,-4,6,-8,9,-7,11,-14,16,-20,22,
    -37,30,-20,14,-11,9,-12,8,-6,9,-7,5,-8,6,-4,7,-9,6,-5,8,
    -9,6,-5,8,-10,7,-4,6,-8,9,-6,5,-7,10,-8,5,-4,7,-9,6,
    -5,8,-9,6,-4,7,-10,8,-6,5,-8,9,-7,5,-9,10,-12,11,-8,6,
    -7,9,-6,4,-8,10,-7,5,-6,8,-9,6,-4,7,-10,8,-5,6,-8,9,
    -6,4,-7,9,-8,5,-6,10,-9,6,-4,7,-8,9,-6,5,-7,8,-10,7,
    -5,8,-9,6,-4,7,-10,8,-6,5,-9,8,-7,4,-6,9,-8,5,-7,10,
    -8,6,-5,9,-7,4,-6,8,-10,7,-5,6,-9,8,-4,7,-8,6,-5,9,
    -7,10,-8,5,-6,9,-11,8,-6,7,-10,9,-5,6,-8,11,-9,6,-7,10,
    -9,7,-6,10,-8,5,-7,11,-10,8,-6,9,-11,7,-5,8,-10,9,-7,6,
    -8,10,-11,7,-6,9,-10,8,-5,7,-11,10,-8,6,-9,11,-7,5,-8,10,
    -9,7,-6,10,-11,8,-7,9,-12,10,-8,6,-9,11,-10,7,-6,9,-11,12,
    -10,9,-12,11,-8,10,-13,12,-9,11,-14,13,-10,12,-16,18,-21,24,26,-24,
    15,-12,14,-17,13,-10,16,-14,11,-18,16,-12,14,-20,17,-13,19,-15,12,-21,
    19,-15,18,-22,16,-12,20,-17,14,-19,23,-18,13,-16,20,-15,18,-22,17,-14,
    16,-20,22,-26,28,-34,63,-72,38,-25,20,-16,14,-18,15,-12,16,-14,11,-15,
    13,-10,12,-14,11,-9,12,-13,10,-8,11,-12,9,-11,10,-8,9,-11,8,-10,
    9,-7,8,-10,9,-6,7,-9,10,-8,6,-9,8,-7,5,-8,9,-7,6,-8,
    7,-9,8,-6,5,-8,9,-7,6,-10,8,-5,7,-9,8,-6,5,-7,9,-8,
    6,-5,8,-9,7,-5,6,-10,9,-7,5,-8,9,-6,7,-8,10,-7,5,-6,
    8,-10,7,-5,6,-9,8,-6,7,-10,9,-7,5,-8,9,-6,7,-9,8,-5,
    7,-6,9,-10,8,-5,6,-9,10,-8,6,-7,9,-10,7,-5,8,-9,6,-7,
    9,-8,6,-7,10,-9,7,-6,8,-11,9,-7,10,-12,9,-8,11,-10,12,-13,
    12,-14,11,-15,13,-16,15,-18,17,-15,19,-18,20,-22,19,-24,25,-23,28,-26,
    30,-35,40,-38,45,-42,50,-55,48,-60,70,96,-82,60,-45,40,-38,42,-35,30,
    -40,38,-45,42,-36,40,-44,38,-50,55,-62,-95,70,86,-70,65,-80,72,-90,100,
    -110,95,-134,105,120,155,-120,105,-95,80,-70,60,-55,65,-50,45,-40,38,-42,35,
    -30,38,-28,25
];

var traces = [tracePenzance, traceConstantine, traceCarnmenellis, traceCamborne, traceStDay,
    tracePlayingPlace, traceTruroSchool, tracePenair, traceDelabole];

// layout (pixels) and styles
var FONT = 'DejaVu Sans';
var GRID_LEFT = 152.5;
var GRID_WIDTH = 1671.5;
var GRID_TOP = 87.3;
var PANEL_H = 102.8;
var X_MIN = 1014.5;
var X_MAX = 1375.25;
var TRACE_COLOR = '#1f77b4';
var DASH = [7.5, 3.2];
var phaseColors = {
    Pdiff: 'rgba(255,127,14,0.5)',
    PKIKP: 'rgba(31,119,180,0.5)',
    PKiKP: 'rgba(214,39,40,0.5)',
    PKP: 'rgba(44,160,44,0.5)'
};

var dom = document.getElementById('chartArea');
var myChart = echarts.init(dom);

//matplotlib style exponent labels: 2.5e-07
function sciLabel(value) {
    var parts = (value * UNIT).toExponential(1).split('e');
    var exp = parseInt(parts[1], 10);
    var sign = exp < 0 ? '-' : '+';
    exp = Math.abs(exp);
    return parts[0] + 'e' + sign + (exp < 10 ? '0' : '') + exp;
}

function buildTrace(values) {
    var pts = [];
    for (var i = 0; i < values.length; i++) {
        pts.push([T0 + i * DT, values[i]]);
    }
    return pts;
}

function xAxisOp(k, pos, withLabels) {
    return {
        type: 'value',
        gridIndex: k,
        position: pos,
        min: X_MIN,
        max: X_MAX,
        axisLine: {show: true, onZero: false, lineStyle: {color: '#000', width: 1.1}},
        axisTick: {show: true, inside: true, length: 5, customValues: xTickValues,
            lineStyle: {color: '#000', width: 1.1}},
        axisLabel: {show: withLabels, customValues: xTickValues, margin: 5,
            formatter: function (v) { return String(v); },
            color: '#000', fontSize: 14, fontFamily: FONT},
        splitLine: {show: false}
    };
}

function yAxisOp(k, pos, withLabels) {
    return {
        type: 'value',
        gridIndex: k,
        position: pos,
        min: -yLimits[k],
        max: yLimits[k],
        axisLine: {show: true, onZero: false, lineStyle: {color: '#000', width: 1.1}},
        axisTick: {show: true, inside: true, length: 5, customValues: yTickValues[k],
            lineStyle: {color: '#000', width: 1.1}},
        axisLabel: {show: withLabels, customValues: yTickValues[k], formatter: sciLabel,
            margin: 5, color: '#000', fontSize: 14, fontFamily: FONT},
        splitLine: {show: false}
    };
}

function phaseLine(t, color) {
    return {xAxis: t, lineStyle: {color: color, type: DASH, width: 2}};
}

function phaseLabel(name, t, k, color) {
    return {name: name, value: [t, -0.84 * yLimits[k]], label: {color: color}};
}

var grids = [], xAxes = [], yAxes = [], series = [], graphics = [];

for (var k = 0; k < traces.length; k++) {
    var panelTop = GRID_TOP + k * PANEL_H;
    grids.push({left: GRID_LEFT, top: panelTop, width: GRID_WIDTH, height: PANEL_H});
    xAxes.push(xAxisOp(k, 'bottom', k === traces.length - 1));
    xAxes.push(xAxisOp(k, 'top', false));
    yAxes.push(yAxisOp(k, 'left', true));
    yAxes.push(yAxisOp(k, 'right', false));

    series.push({
        type: 'line',
        xAxisIndex: 2 * k,
        yAxisIndex: 2 * k,
        data: buildTrace(traces[k]),
        showSymbol: false,
        symbol: 'none',
        silent: true,
        lineStyle: {color: TRACE_COLOR, width: 1},
        itemStyle: {color: TRACE_COLOR},
        markLine: {
            silent: true,
            symbol: ['none', 'none'],
            label: {show: false},
            animation: false,
            data: [
                phaseLine(pdiffTimes[k], phaseColors.Pdiff),
                phaseLine(pkikpTimes[k], phaseColors.PKIKP),
                phaseLine(pkpTimes[k], phaseColors.PKP),
                phaseLine(pkikpInnerTimes[k], phaseColors.PKiKP),
                phaseLine(pkpAbTimes[k], phaseColors.PKP)
            ]
        }
    });

    //phase names, right aligned on each line near the panel bottom
    series.push({
        type: 'scatter',
        xAxisIndex: 2 * k,
        yAxisIndex: 2 * k,
        silent: true,
        symbolSize: 1,
        itemStyle: {color: 'rgba(0,0,0,0)'},
        label: {show: true, position: 'left', distance: 5, formatter: '{b}',
            fontSize: 14, fontFamily: FONT},
        data: [
            phaseLabel('Pdiff', pdiffTimes[k], k, phaseColors.Pdiff),
            phaseLabel('PKIKP', pkikpTimes[k], k, phaseColors.PKIKP),
            phaseLabel('PKiKP', pkikpInnerTimes[k], k, phaseColors.PKiKP),
            phaseLabel('PKP', pkpTimes[k], k, phaseColors.PKP),
            phaseLabel('PKP', pkpAbTimes[k], k, phaseColors.PKP)
        ]
    });

    graphics.push({
        type: 'text', left: 170, top: panelTop + 4,
        style: {text: stationNames[k], fill: '#000', font: '14px ' + FONT}
    });
}

// three title lines, centred on the figure
var titleLines = [
    'M6.2 147 km SSW of Port-Vila, Vanuatu 2021-02-18 06:37:30.866000',
    'from the Raspberry Shake Network and BGS seismometers CCA1, HTL & DYA',
    'depth: 10.0 km, distance: 16481.0 km.'
];
for (var t = 0; t < titleLines.length; t++) {
    graphics.push({
        type: 'text', x: 950, y: 17 + t * 16,
        style: {text: titleLines[t], fill: '#000', font: '14px ' + FONT, align: 'center', verticalAlign: 'middle'}
    });
}

graphics.push({
    type: 'text', x: 17, y: 551, rotation: Math.PI / 2,
    style: {text: 'Velocity [m/s]', fill: '#000', font: '14px ' + FONT, align: 'center', verticalAlign: 'middle'}
});
graphics.push({
    type: 'text', x: 19, y: 1081,
    style: {text: 'Channel: EHZ, filter: "bandpass", freqmin=1.3, freqmax=2.8, corners=4', fill: '#000',
        font: '14px ' + FONT, align: 'left', verticalAlign: 'middle'}
});
graphics.push({
    type: 'text', x: 950, y: 1081,
    style: {text: 'Time since earthquake [s]', fill: '#000', font: '14px ' + FONT,
        align: 'center', verticalAlign: 'middle'}
});

var arrivalLines = [
    ['First Arrivals at R7FA5', '#000'],
    ['Pdiff time: 1039.22s', '#ff7f0e'],
    ['PKIKP time: 1182.22s', '#1f77b4'],
    ['PKP time: 1185.57s', '#2ca02c']
];
var arrivalY = [1051, 1065, 1078.5, 1092];
for (var a = 0; a < arrivalLines.length; a++) {
    graphics.push({
        type: 'text', x: 1520, y: arrivalY[a],
        style: {text: arrivalLines[a][0], fill: arrivalLines[a][1], font: '14px ' + FONT,
            align: 'left', verticalAlign: 'middle'}
    });
}

var option = {
    animation: false,
    backgroundColor: '#fff',
    grid: grids,
    xAxis: xAxes,
    yAxis: yAxes,
    series: series,
    graphic: graphics
};

myChart.setOption(option, true);
</script>
</body>
</html>
